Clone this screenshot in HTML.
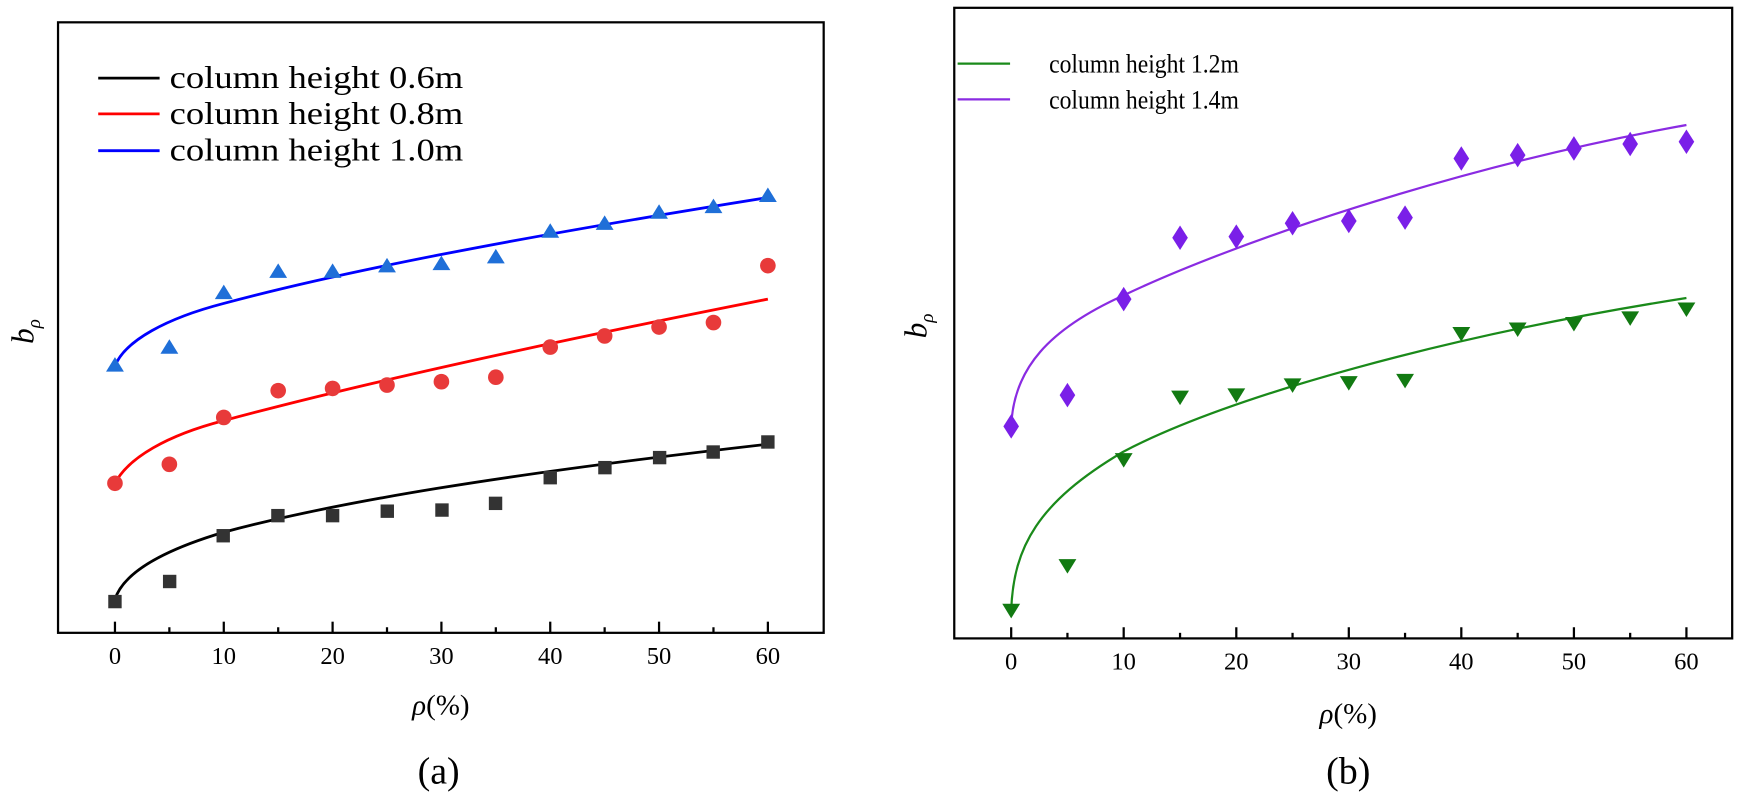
<!DOCTYPE html>
<html><head><meta charset="utf-8"><style>
body{margin:0;background:#fff;}
svg text{font-family:"Liberation Serif",serif;}
</style></head><body>
<svg width="1750" height="801" viewBox="0 0 1750 801" xmlns="http://www.w3.org/2000/svg">
<rect width="1750" height="801" fill="#fff"/>
<g transform="scale(1.1161)">
<!-- LEFT PLOT -->
<rect x="52" y="20" width="686" height="547" fill="none" stroke="#000" stroke-width="2"/>
<g stroke="#000" stroke-width="2">
<line x1="103" y1="567" x2="103" y2="557"/><line x1="151.75" y1="567" x2="151.75" y2="562"/>
<line x1="200.5" y1="567" x2="200.5" y2="557"/><line x1="249.25" y1="567" x2="249.25" y2="562"/>
<line x1="298" y1="567" x2="298" y2="557"/><line x1="346.75" y1="567" x2="346.75" y2="562"/>
<line x1="395.5" y1="567" x2="395.5" y2="557"/><line x1="444.25" y1="567" x2="444.25" y2="562"/>
<line x1="493" y1="567" x2="493" y2="557"/><line x1="541.75" y1="567" x2="541.75" y2="562"/>
<line x1="590.5" y1="567" x2="590.5" y2="557"/><line x1="639.25" y1="567" x2="639.25" y2="562"/>
<line x1="688" y1="567" x2="688" y2="557"/>
</g>
<g font-size="22" text-anchor="middle" fill="#000">
<text x="103" y="595">0</text><text x="200.5" y="595">10</text><text x="298" y="595">20</text>
<text x="395.5" y="595">30</text><text x="493" y="595">40</text><text x="590.5" y="595">50</text><text x="688" y="595">60</text>
</g>
<text x="395" y="640" font-size="26" text-anchor="middle" font-style="italic">ρ<tspan font-style="normal">(%)</tspan></text>
<text x="393" y="702" font-size="34" text-anchor="middle">(a)</text>
<text transform="translate(30,297) rotate(-90)" font-size="28" text-anchor="middle" font-style="italic">b<tspan font-size="17" dy="6">ρ</tspan></text>
<g font-size="28">
<line x1="88" y1="70" x2="143" y2="70" stroke="#000" stroke-width="2.5"/><text x="152" y="79" textLength="263" lengthAdjust="spacingAndGlyphs">column height 0.6m</text>
<line x1="88" y1="102" x2="143" y2="102" stroke="#f00" stroke-width="2.5"/><text x="152" y="111" textLength="263" lengthAdjust="spacingAndGlyphs">column height 0.8m</text>
<line x1="88" y1="135" x2="143" y2="135" stroke="#00f" stroke-width="2.5"/><text x="152" y="144" textLength="263" lengthAdjust="spacingAndGlyphs">column height 1.0m</text>
</g>
<path d="M103,537 C110,515 140,495 200,477 C300,450 450,425 688,398" fill="none" stroke="#000" stroke-width="2.5"/>
<path d="M103,433 C115,410 150,390 200,377 C300,350 450,315 688,268" fill="none" stroke="#f00" stroke-width="2.5"/>
<path d="M103,328 C112,305 150,285 200,272 C300,245 450,215 688,177" fill="none" stroke="#00f" stroke-width="2.5"/>
<g fill="#333">
<rect x="97" y="533" width="12" height="12"/><rect x="146" y="515" width="12" height="12"/><rect x="194" y="474" width="12" height="12"/>
<rect x="243" y="456" width="12" height="12"/><rect x="292" y="456" width="12" height="12"/><rect x="341" y="452" width="12" height="12"/>
<rect x="390" y="451" width="12" height="12"/><rect x="438" y="445" width="12" height="12"/><rect x="487" y="422" width="12" height="12"/>
<rect x="536" y="413" width="12" height="12"/><rect x="585" y="404" width="12" height="12"/><rect x="633" y="399" width="12" height="12"/><rect x="682" y="390" width="12" height="12"/>
</g>
<g fill="#e83a3a">
<circle cx="103" cy="433" r="7"/><circle cx="151.75" cy="416" r="7"/><circle cx="200.5" cy="374" r="7"/><circle cx="249.25" cy="350" r="7"/>
<circle cx="298" cy="348" r="7"/><circle cx="346.75" cy="345" r="7"/><circle cx="395.5" cy="342" r="7"/><circle cx="444.25" cy="338" r="7"/>
<circle cx="493" cy="311" r="7"/><circle cx="541.75" cy="301" r="7"/><circle cx="590.5" cy="293" r="7"/><circle cx="639.25" cy="289" r="7"/><circle cx="688" cy="238" r="7"/>
</g>
<g fill="#1f6fd8">
<path d="M103,320 l-8,13 h16z"/><path d="M151.75,304 l-8,13 h16z"/><path d="M200.5,255 l-8,13 h16z"/><path d="M249.25,236 l-8,13 h16z"/>
<path d="M298,236 l-8,13 h16z"/><path d="M346.75,231 l-8,13 h16z"/><path d="M395.5,229 l-8,13 h16z"/><path d="M444.25,223 l-8,13 h16z"/>
<path d="M493,200 l-8,13 h16z"/><path d="M541.75,193 l-8,13 h16z"/><path d="M590.5,183 l-8,13 h16z"/><path d="M639.25,178 l-8,13 h16z"/><path d="M688,168 l-8,13 h16z"/>
</g>
<!-- RIGHT PLOT -->
<rect x="855" y="7" width="697" height="565" fill="none" stroke="#000" stroke-width="2"/>
<g stroke="#000" stroke-width="2">
<line x1="906" y1="572" x2="906" y2="562"/><line x1="956.4" y1="572" x2="956.4" y2="567"/>
<line x1="1006.8" y1="572" x2="1006.8" y2="562"/><line x1="1057.3" y1="572" x2="1057.3" y2="567"/>
<line x1="1107.7" y1="572" x2="1107.7" y2="562"/><line x1="1158.1" y1="572" x2="1158.1" y2="567"/>
<line x1="1208.5" y1="572" x2="1208.5" y2="562"/><line x1="1258.9" y1="572" x2="1258.9" y2="567"/>
<line x1="1309.3" y1="572" x2="1309.3" y2="562"/><line x1="1359.8" y1="572" x2="1359.8" y2="567"/>
<line x1="1410.2" y1="572" x2="1410.2" y2="562"/><line x1="1460.6" y1="572" x2="1460.6" y2="567"/>
<line x1="1511" y1="572" x2="1511" y2="562"/>
</g>
<g font-size="22" text-anchor="middle" fill="#000">
<text x="906" y="600">0</text><text x="1006.8" y="600">10</text><text x="1107.7" y="600">20</text>
<text x="1208.5" y="600">30</text><text x="1309.3" y="600">40</text><text x="1410.2" y="600">50</text><text x="1511" y="600">60</text>
</g>
<text x="1208" y="648" font-size="26" text-anchor="middle" font-style="italic">ρ<tspan font-style="normal">(%)</tspan></text>
<text x="1208" y="702" font-size="34" text-anchor="middle">(b)</text>
<text transform="translate(830,292) rotate(-90)" font-size="28" text-anchor="middle" font-style="italic">b<tspan font-size="17" dy="6">ρ</tspan></text>
<g font-size="24">
<line x1="858" y1="57" x2="905" y2="57" stroke="#1a8a1a" stroke-width="2"/><text x="940" y="65" textLength="170" lengthAdjust="spacingAndGlyphs">column height 1.2m</text>
<line x1="858" y1="89" x2="905" y2="89" stroke="#8a2be2" stroke-width="2"/><text x="940" y="97" textLength="170" lengthAdjust="spacingAndGlyphs">column height 1.4m</text>
</g>
<path d="M906,547 C908,490 930,450 1006,405 C1100,355 1300,300 1511,267" fill="none" stroke="#1a8a1a" stroke-width="2"/>
<path d="M906,382 C908,330 940,295 1006,265 C1100,220 1300,150 1511,112" fill="none" stroke="#8a2be2" stroke-width="2"/>
<g fill="#7a1fe8">
<path d="M906,371 l-7,11 7,11 7,-11z"/><path d="M956.4,343 l-7,11 7,11 7,-11z"/><path d="M1006.8,257 l-7,11 7,11 7,-11z"/><path d="M1057.3,202 l-7,11 7,11 7,-11z"/>
<path d="M1107.7,201 l-7,11 7,11 7,-11z"/><path d="M1158.1,189 l-7,11 7,11 7,-11z"/><path d="M1208.5,187 l-7,11 7,11 7,-11z"/><path d="M1258.9,184 l-7,11 7,11 7,-11z"/>
<path d="M1309.3,131 l-7,11 7,11 7,-11z"/><path d="M1359.8,128 l-7,11 7,11 7,-11z"/><path d="M1410.2,122 l-7,11 7,11 7,-11z"/><path d="M1460.6,118 l-7,11 7,11 7,-11z"/><path d="M1511,116 l-7,11 7,11 7,-11z"/>
</g>
<g fill="#127a12">
<path d="M898,541 h16 l-8,13z"/><path d="M948.4,501 h16 l-8,13z"/><path d="M998.8,406 h16 l-8,13z"/><path d="M1049.3,350 h16 l-8,13z"/>
<path d="M1099.7,348 h16 l-8,13z"/><path d="M1150.1,339 h16 l-8,13z"/><path d="M1200.5,337 h16 l-8,13z"/><path d="M1250.9,335 h16 l-8,13z"/>
<path d="M1301.3,293 h16 l-8,13z"/><path d="M1351.8,289 h16 l-8,13z"/><path d="M1402.2,284 h16 l-8,13z"/><path d="M1452.6,279 h16 l-8,13z"/><path d="M1503,271 h16 l-8,13z"/>
</g>
</g>
</svg>
</body></html>
